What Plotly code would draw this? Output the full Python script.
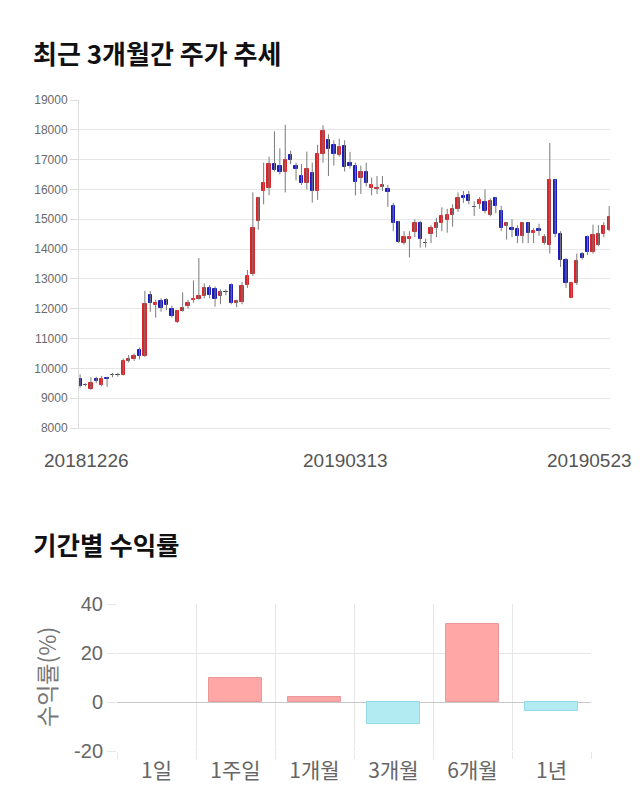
import plotly.graph_objects as go

# ---------------- data ----------------
dates = [
    "20181226", "20181227", "20181228",
    "20190102", "20190103", "20190104", "20190107", "20190108", "20190109", "20190110", "20190111",
    "20190114", "20190115", "20190116", "20190117", "20190118", "20190121", "20190122", "20190123",
    "20190124", "20190125", "20190128", "20190129", "20190130", "20190131",
    "20190201", "20190207", "20190208", "20190211", "20190212", "20190213", "20190214", "20190215",
    "20190218", "20190219", "20190220", "20190221", "20190222", "20190225", "20190226", "20190227",
    "20190228",
    "20190304", "20190305", "20190306", "20190307", "20190308", "20190311", "20190312", "20190313",
    "20190314", "20190315", "20190318", "20190319", "20190320", "20190321", "20190322", "20190325",
    "20190326", "20190327", "20190328", "20190329",
    "20190401", "20190402", "20190403", "20190404", "20190405", "20190408", "20190409", "20190410",
    "20190411", "20190412", "20190415", "20190416", "20190417", "20190418", "20190419", "20190422",
    "20190423", "20190424", "20190425", "20190426", "20190429", "20190430",
    "20190502", "20190503", "20190507", "20190508", "20190509", "20190510", "20190513", "20190514",
    "20190515", "20190516", "20190517", "20190520", "20190521", "20190522", "20190523",
]
opens = [
    9650, 9450, 9300, 9650, 9440, 9680, 9770, 9780, 9780, 10250,
    10300, 10600, 10400, 12450, 12120, 12250, 12300, 12000, 11550, 11930,
    12100, 12300, 12340, 12430, 12700, 12660, 12420, 12570, 12800, 12200,
    12220, 12790, 13150, 14950, 15950, 16050, 16850, 16800, 16600, 17150,
    16800, 16450, 16200, 16550, 15950, 17200, 17650, 17500, 17150, 17450,
    16900, 16800, 16400, 16600, 16050, 16000, 16090, 16000, 15450, 14920,
    14210, 14330, 14580, 14860, 14210, 14490, 14720, 14890, 14970, 15160,
    15360, 15780, 15800, 15420, 15500, 15570, 15160, 15700, 15270, 14780,
    14710, 14670, 14430, 14860, 14540, 14670, 14190, 14130, 16330, 14500,
    13650, 12350, 12850, 13850, 14390, 13910, 14150, 14490, 14640,
]
highs = [
    9800, 9500, 9700, 9720, 9750, 9720, 9850, 9850, 10330, 10450,
    10500, 10700, 12600, 12600, 12300, 12350, 12350, 12100, 11950, 12550,
    12300, 12950, 13700, 12850, 12800, 12750, 12650, 12650, 12850, 12300,
    12900, 13300, 15900, 15750, 16900, 17100, 17950, 17380, 18170, 17300,
    16900, 16850, 17270, 16900, 17500, 18150, 17850, 17650, 17700, 17650,
    17260, 16900, 16800, 16900, 16400, 16450, 16450, 16150, 15550, 14950,
    14600, 14600, 15000, 14950, 14350, 14800, 15050, 15400, 15350, 15500,
    15900, 15950, 15950, 15600, 15750, 16000, 15700, 15750, 15450, 14900,
    15000, 14800, 14900, 14900, 14700, 14850, 14500, 17560, 16350, 14600,
    13700, 12900, 13850, 13900, 14450, 14820, 14800, 14900, 15440,
]
lows = [
    9350, 9400, 9280, 9500, 9400, 9380, 9700, 9720, 9760, 10200,
    10250, 10300, 10380, 11900, 11700, 11900, 11950, 11700, 11520, 11900,
    12000, 12200, 12300, 12350, 12350, 12070, 12150, 12450, 12150, 12050,
    12150, 12700, 13100, 14650, 15500, 15800, 16600, 16500, 15900, 16850,
    16300, 16150, 16000, 15560, 15650, 16900, 16450, 16800, 17100, 16600,
    16700, 15800, 15850, 16100, 15800, 15850, 15950, 15420, 14600, 14200,
    14150, 13720, 14400, 14050, 14050, 14200, 14400, 14600, 14550, 14750,
    15250, 15550, 15500, 15110, 15350, 15200, 15100, 15200, 14600, 14320,
    14400, 14200, 14200, 14200, 14200, 14450, 14150, 13850, 14400, 13400,
    12700, 12350, 12800, 13650, 13800, 13850, 14100, 14400, 14600,
]
closes = [
    9400, 9450, 9500, 9580, 9630, 9630, 9770, 9780, 10250, 10310,
    10400, 10400, 12150, 12180, 12200, 12010, 12120, 11750, 11920, 12010,
    12200, 12320, 12420, 12700, 12450, 12320, 12550, 12570, 12200, 12250,
    12760, 13100, 14700, 15700, 16200, 16850, 16650, 16600, 17000, 17000,
    16700, 16200, 16700, 15950, 17200, 17950, 17350, 17200, 17420, 16750,
    16800, 16250, 16600, 16200, 16140, 16050, 16140, 15900, 14870, 14250,
    14390, 14400, 14860, 14330, 14210, 14720, 14890, 15100, 15160, 15360,
    15700, 15700, 15600, 15420, 15640, 15270, 15600, 15450, 14700, 14860,
    14630, 14430, 14860, 14540, 14600, 14600, 14390, 16330, 14500, 13650,
    12850, 12850, 13600, 13710, 13910, 14470, 14500, 14770, 15060,
]
date_labels = ["20181226", "20190313", "20190523"]
price_ticks = [8000, 9000, 10000, 11000, 12000, 13000, 14000, 15000, 16000, 17000, 18000, 19000]

periods = ["1일", "1주일", "1개월", "3개월", "6개월", "1년"]
returns = [0.0, 9.8, 2.2, -8.8, 32.0, -3.7]
return_ticks = [-20, 0, 20, 40]
return_tick_text = ["-20", "0", "20", "40"]

# ---------------- helpers ----------------
W, H = 640, 810
def px(x):
    return x / W
def py(y):
    return 1 - y / H

RED = "#d7262b"
BLUE = "#1a1abf"
DOJI = "#333333"
GRID = "#e6e6e6"

fig = go.Figure()

# wicks (drawn first, behind bodies)
wx, wy = [], []
for d, h, l in zip(dates, highs, lows):
    wx += [d, d, None]
    wy += [l, h, None]
fig.add_trace(go.Scatter(
    x=wx, y=wy, mode="lines", line=dict(color="#7a7a7a", width=1),
    xaxis="x", yaxis="y", hoverinfo="skip", showlegend=False,
))

# bodies
body_base = [min(o, c) for o, c in zip(opens, closes)]
body_len = [abs(c - o) for o, c in zip(opens, closes)]
body_col = [RED if c > o else (BLUE if c < o else DOJI) for o, c in zip(opens, closes)]
fig.add_trace(go.Bar(
    x=dates, y=body_len, base=body_base, width=0.62,
    marker=dict(color=body_col, line=dict(color=body_col, width=1)),
    xaxis="x", yaxis="y", showlegend=False,
))

# returns bars
ret_fill = ["#ffa6a6" if v >= 0 else "#b3ebf2" for v in returns]
ret_line = ["#e89a9a" if v >= 0 else "#93d9e6" for v in returns]
ret_lw = [1 if v != 0 else 0 for v in returns]
fig.add_trace(go.Bar(
    x=periods, y=returns, width=0.68,
    marker=dict(color=ret_fill, line=dict(color=ret_line, width=ret_lw)),
    xaxis="x2", yaxis="y2", showlegend=False,
))

num_font = "Liberation Sans, Arial, sans-serif"
kr_font = "Noto Sans CJK KR, Noto Sans, sans-serif"

fig.update_layout(
    width=W, height=H, autosize=False,
    margin=dict(l=0, r=0, t=0, b=0, pad=0, autoexpand=False),
    paper_bgcolor="white", plot_bgcolor="white",
    showlegend=False,
    bargap=0,
    xaxis=dict(
        type="category", categoryorder="array", categoryarray=dates,
        domain=[px(79), px(610)], range=[-0.2, 98.15],
        showgrid=False, showticklabels=False, ticks="",
        showline=True, linecolor=GRID, linewidth=1, zeroline=False,
        automargin=False, anchor="y",
    ),
    yaxis=dict(
        domain=[py(428), py(100)], range=[8000, 19000],
        tickvals=price_ticks, tickformat="d", ticks="outside", ticklen=8, tickcolor="#dddddd",
        gridcolor=GRID, showline=True, linecolor="#dddddd", linewidth=1,
        zeroline=False, automargin=False,
        tickfont=dict(family=num_font, size=12, color="#6a6a6a"),
        anchor="x",
    ),
    xaxis2=dict(
        type="category", categoryorder="array", categoryarray=periods,
        domain=[px(117), px(591)], range=[-0.5, 5.5],
        tickson="boundaries", ticks="outside", ticklen=7, tickcolor=GRID,
        showgrid=True, gridcolor=GRID, showline=False, zeroline=False,
        tickfont=dict(family=kr_font, size=21, color="#666666"),
        ticklabelstandoff=5, automargin=False,
        anchor="y2",
    ),
    yaxis2=dict(
        domain=[py(751), py(604)], range=[-20, 40],
        tickvals=return_ticks, ticktext=return_tick_text,
        ticks="outside", ticklen=9, tickcolor=GRID,
        gridcolor=GRID, zeroline=True, zerolinecolor="#c8c8c8", zerolinewidth=1,
        showline=False, automargin=False,
        tickfont=dict(family=num_font, size=20, color="#666666"),
        anchor="x2",
    ),
)

annotations = [
    dict(text="<b>최근 3개월간 주가 추세</b>", xref="paper", yref="paper",
         x=px(31), y=py(52), xanchor="left", yanchor="middle", showarrow=False,
         font=dict(family=kr_font, size=26, color="#111111")),
    dict(text="<b>기간별 수익률</b>", xref="paper", yref="paper",
         x=px(31), y=py(543), xanchor="left", yanchor="middle", showarrow=False,
         font=dict(family=kr_font, size=25.5, color="#111111")),
    dict(text="수익률(%)", xref="paper", yref="paper", textangle=-90,
         x=px(46), y=py(677), xanchor="center", yanchor="middle", showarrow=False,
         font=dict(family=kr_font, size=23, color="#777777")),
]
label_shift = {"20181226": 6, "20190313": 1, "20190523": -20}
for d in date_labels:
    annotations.append(dict(
        text=d, xref="x", yref="paper", x=dates.index(d), y=py(460),
        xanchor="center", yanchor="middle", showarrow=False,
        xshift=label_shift[d],
        font=dict(family=num_font, size=19, color="#555555"),
    ))
fig.update_layout(annotations=annotations)

fig.write_html("out.html")
